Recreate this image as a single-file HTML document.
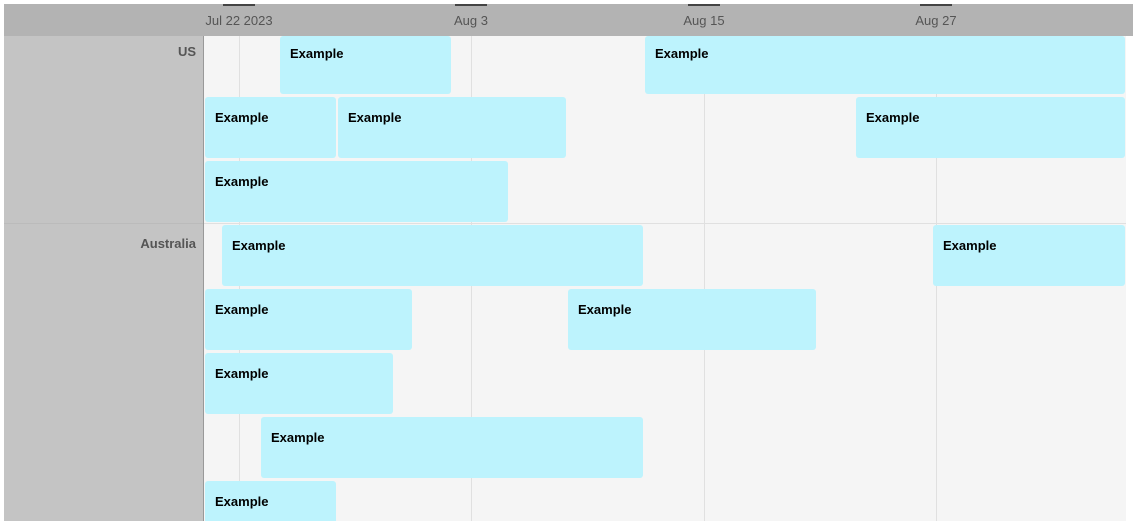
<!DOCTYPE html>
<html><head><style>
body{margin:0;width:1137px;height:527px;background:#fff;position:relative;overflow:hidden;font-family:"Liberation Sans",sans-serif}
.a{position:absolute}
.hd{left:4px;top:4px;width:1129px;height:32px;background:#b3b3b3}
.tk{top:4px;height:2px;width:32px;background:#444}
.tl{top:13px;width:100px;text-align:center;font-size:13px;color:#555}
.lp{left:4px;top:36px;width:199px;height:485px;background:#c4c4c4;border-right:1px solid #999}
.gr{left:204px;top:36px;width:922px;height:485px;background:#f5f5f5}
.gl{top:36px;width:1px;height:485px;background:#e0e0e0}
.b{background:#bdf3fd;border-radius:3px;font-size:13px;font-weight:bold;color:#000;box-sizing:border-box;padding:13px 0 0 10px;height:61px}
.f{padding-top:10px}
.g{right:941px;font-size:13px;font-weight:bold;color:#555;text-align:right}
</style></head><body>
<div class="a gr"></div>
<div class="a gl" style="left:239px"></div>
<div class="a gl" style="left:471px"></div>
<div class="a gl" style="left:704px"></div>
<div class="a gl" style="left:936px"></div>
<div class="a" style="left:204px;top:223px;width:922px;height:1px;background:#e0e0e0"></div>
<div class="a lp"></div>
<div class="a" style="left:4px;top:223px;width:199px;height:1px;background:#bbb"></div>
<div class="a g" style="top:44px">US</div>
<div class="a g" style="top:236px">Australia</div>
<div class="a hd"></div>
<div class="a tk" style="left:223px"></div><div class="a tk" style="left:455px"></div><div class="a tk" style="left:688px"></div><div class="a tk" style="left:920px"></div>
<div class="a tl" style="left:189px">Jul 22 2023</div>
<div class="a tl" style="left:421px">Aug 3</div>
<div class="a tl" style="left:654px">Aug 15</div>
<div class="a tl" style="left:886px">Aug 27</div>
<div class="a b f" style="left:280px;top:36px;width:171px;height:58px">Example</div>
<div class="a b f" style="left:645px;top:36px;width:480px;height:58px">Example</div>
<div class="a b" style="left:205px;top:97px;width:131px">Example</div>
<div class="a b" style="left:338px;top:97px;width:228px">Example</div>
<div class="a b" style="left:856px;top:97px;width:269px">Example</div>
<div class="a b" style="left:205px;top:161px;width:303px">Example</div>
<div class="a b" style="left:222px;top:225px;width:421px">Example</div>
<div class="a b" style="left:933px;top:225px;width:192px">Example</div>
<div class="a b" style="left:205px;top:289px;width:207px">Example</div>
<div class="a b" style="left:568px;top:289px;width:248px">Example</div>
<div class="a b" style="left:205px;top:353px;width:188px">Example</div>
<div class="a b" style="left:261px;top:417px;width:382px">Example</div>
<div class="a b" style="left:205px;top:481px;width:131px;height:40px;border-radius:3px 3px 0 0">Example</div>
</body></html>
